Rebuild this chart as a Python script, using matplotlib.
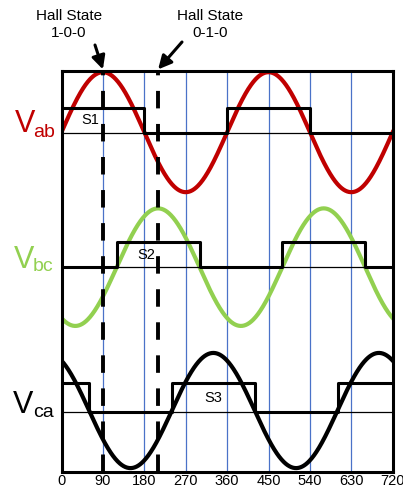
import numpy as np
import matplotlib
matplotlib.use('Agg')
import matplotlib.pyplot as plt

plt.rcParams['font.family'] = ['Liberation Sans', 'DejaVu Sans']

# phase of each line voltage (degrees) and where it sits on the stacked axis
names = ['ab', 'bc', 'ca']
phases = [0, 120, 240]
offsets = [5.66, 3.41, 1.02]
amps = [1.0, 0.98, 0.96]
colors = ['#C00000', '#92D050', '#000000']

# hall sensor pulses: edge positions (deg) and state after each edge
s1_edges = [0, 180, 360, 540, 720]
s1_state = [1, 0, 1, 0]
s2_edges = [0, 120, 300, 480, 660, 720]
s2_state = [0, 1, 0, 1, 0]
s3_edges = [0, 60, 240, 420, 600, 720]
s3_state = [1, 0, 1, 0, 1]
pulse_heights = [0.42, 0.42, 0.48]
pulse_names = ['S1', 'S2', 'S3']
pulse_label_x = [63, 185, 330]

grid_x = [90, 180, 270, 360, 450, 540, 630]
hall_x = [90, 210]
hall_labels = ['Hall State\n1-0-0', 'Hall State\n0-1-0']
xticks = [0, 90, 180, 270, 360, 450, 540, 630, 720]

fig = plt.figure(figsize=(4.03, 4.88), dpi=100)
ax = fig.add_axes([61.5 / 403, 1 - 471.7 / 488, 331.2 / 403, 400.7 / 488])
ax.set_xlim(0, 720)
ax.set_ylim(0, 6.68)

for gx in grid_x:
    ax.axvline(gx, color='#4A72C8', lw=0.9, zorder=1)

theta = np.linspace(0, 720, 721)
for ph, off, a, c in zip(phases, offsets, amps, colors):
    ax.plot(theta, off + a * np.sin(np.radians(theta - ph)), color=c, lw=3, zorder=2)

pulses = [(s1_edges, s1_state), (s2_edges, s2_state), (s3_edges, s3_state)]
base_lines = [5.645, 3.41, 0.995]
for (edges, state), base, h, nm, lx in zip(pulses, base_lines, pulse_heights, pulse_names, pulse_label_x):
    ax.axhline(base, color='black', lw=0.9, zorder=3)
    ys = [base + h * s for s in state]
    ax.step(edges, ys + [ys[-1]], where='post', color='black', lw=2.2, zorder=3)
    ax.text(lx, base + h / 2, nm, fontsize=10.5, ha='center', va='center', zorder=4)

for hx in hall_x:
    ax.axvline(hx, color='black', lw=2.8, linestyle=(0, (4.5, 4)), zorder=5)

fig.text(69 / 403, 1 - 24.5 / 488, hall_labels[0], fontsize=11, ha='center', va='center',
         linespacing=1.2)
fig.text(210 / 403, 1 - 24.5 / 488, hall_labels[1], fontsize=11, ha='center', va='center',
         linespacing=1.2)
ax.annotate('', xy=(90, 1.004), xycoords=ax.get_xaxis_transform(),
            xytext=(95, 488 - 45), textcoords='figure pixels',
            arrowprops=dict(arrowstyle='-|>', color='black', lw=2.2, mutation_scale=20,
                            shrinkA=0, shrinkB=0))
ax.annotate('', xy=(210, 1.004), xycoords=ax.get_xaxis_transform(),
            xytext=(182, 488 - 42), textcoords='figure pixels',
            arrowprops=dict(arrowstyle='-|>', color='black', lw=2.2, mutation_scale=20,
                            shrinkA=0, shrinkB=0))

# V labels at the left
v_pos = [(15, 132, 33, 137), (14, 268, 33, 270.7), (13, 413, 33, 417)]
for (vx, vy, sx, sy), nm, c in zip(v_pos, names, colors):
    fig.text(vx / 403, 1 - vy / 488, 'V', fontsize=22, color=c, ha='left', va='baseline')
    fig.text(sx / 403, 1 - sy / 488, nm, fontsize=14, color=c, ha='left', va='baseline')

ax.set_xticks(xticks)
ax.set_xticklabels([str(t) for t in xticks], fontsize=10.5)
ax.set_yticks([])
ax.tick_params(axis='x', length=0, pad=2)
for sp in ax.spines.values():
    sp.set_linewidth(2.2)
    sp.set_zorder(6)

fig.savefig('out.png', dpi=100)
